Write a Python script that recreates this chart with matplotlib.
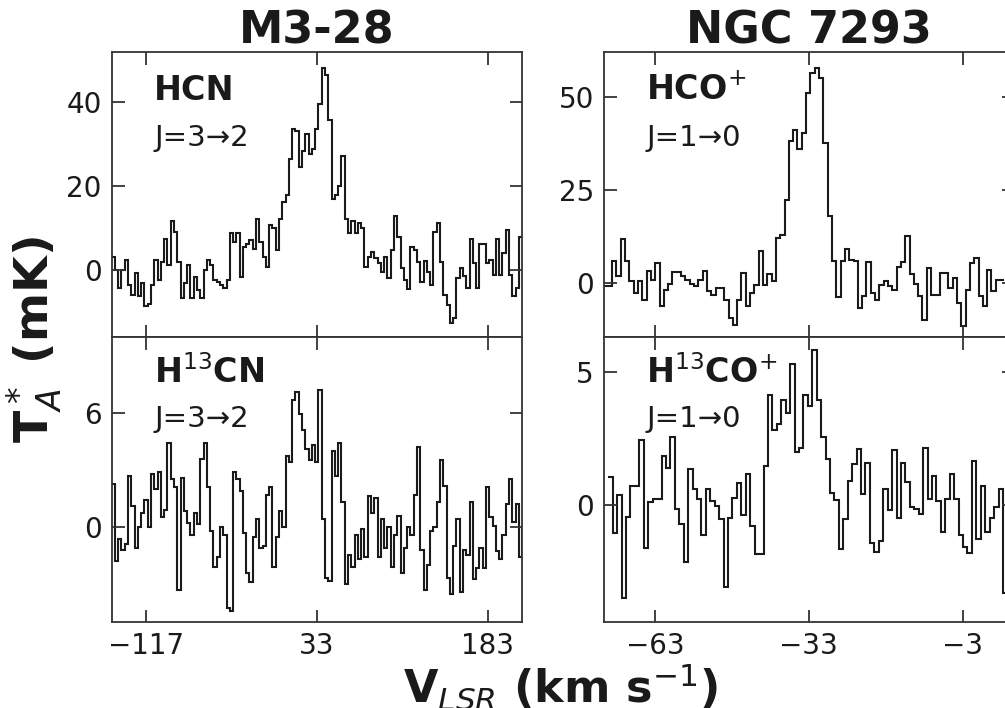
import numpy as np
import matplotlib.pyplot as plt

# M3-28, HCN J=3-2 (mK), channels from V0 in steps of DV (km/s)
hcn_v0, hcn_dv = -147.0, 2.88
hcn = [3.2, 0.0, -4.3, 0.0, 2.4, -3.6, -5.9, -0.8, -6.3, -3.2, -8.5, -8.1, -3.6, 2.4, -2.4, 2.0,
       7.5, 1.2, 11.8, 9.1, 2.0, -6.7, -3.2, 1.2, -6.7, -1.6, -4.7, -6.7, 0.0, 2.4, 1.2, -2.4,
       -2.8, -3.6, -4.3, -2.4, 8.7, 6.7, 8.7, -1.6, 5.5, 6.3, 7.1, 5.1, 12.2, 6.7, 3.2, 0.8,
       10.7, 9.9, 4.7, 12.2, 16.2, 17.8, 26.5, 33.6, 33.2, 24.5, 28.4, 32.4, 27.7, 28.8,
       33.6, 39.5, 48.2, 46.6, 35.9, 17.0, 17.8, 20.1, 27.3, 12.2, 8.8, 11.8, 8.8, 11.2, 9.9,
       0.8, 3.2, 4.3, 2.8, 1.6, -0.4, 3.2, -2.0, 4.7, 12.8, 7.9, 0.4, -2.5, -4.6, 5.5, 4.7,
       2.0, -2.8, 2.2, -0.4, -3.6, 9.1, 11.1, 2.0, -5.9, -8.3, -12.6, -11.4, -2.0, 0.4, -1.4,
       -4.3, 7.5, 1.6, -4.3, 6.3, 6.2, 1.6, 2.4, -1.2, 7.3, -1.2, 4.0, 9.5, -1.2, -6.3, -4.3, 7.9]

# M3-28, H13CN J=3-2 (mK)
h13cn_v0, h13cn_dv = -147.0, 2.88
h13cn = [2.25, -1.8, -0.65, -1.2, -0.9, 2.7, 1.1, -1.1, 0.0, 0.75, 1.4, 0.0, 2.8, 2.0, 2.9, 0.5,
         0.9, 4.4, 2.5, 2.1, -3.3, 2.6, 0.85, 0.2, -0.4, 0.75, 0.15, 3.6, 4.4, 2.1, -0.2, -2.1,
         -1.6, 0.0, -0.4, -4.25, -4.4, 2.9, 2.5, 1.9, -0.3, -2.4, -2.9, -0.55, 0.4, -1.1, -1.0,
         1.7, 2.1, -2.1, -0.55, 0.85, 0.0, 3.75, 3.4, 6.7, 7.1, 5.95, 5.1, 4.1, 3.5,
         4.3, 3.4, 7.2, 0.4, -2.7, -2.85, 4.0, 2.7, 4.4, 1.3, -3.0, -1.45, -2.1, -0.4, -1.7, -0.1,
         -1.6, 1.65, 0.75, 1.55, -1.6, 0.4, -1.1, 0.0, -2.1, -0.4, 0.6, -2.4, -1.1, 0.0, -0.4,
         1.7, 4.2, -1.2, -3.3, -2.0, -0.2, 0.0, 1.3, 3.5, 2.15, -2.7, -3.55, -1.0, 0.4, -3.4,
         -1.2, -1.45, 1.3, -2.75, -2.15, -1.1, -2.15, 2.1, 0.5, 0.05, -1.25, -1.7, -0.4, 1.2,
         2.5, 0.25, 1.2, -1.6, 0.05]

# NGC 7293, HCO+ J=1-0 (mK)
hco_v0, hco_dv = -73.0, 0.84
hco = [-0.9, -0.9, 5.8, 1.8, 11.7, 5.8, 0.45, -2.7, 0.45, -4.5, 3.1, 0.9, 5.4, -6.3, -1.8, -0.4,
       3.0, 3.0, 1.8, 0.9, -0.4, -0.9, 0.9, 3.3, -2.2, -3.1, -1.3, -1.3, -4.5, -9.4, -11.2, -4.5,
       2.7, -6.3, -2.7, -0.6, 8.7, -0.6, 2.4, 0.45, 12.1, 12.8, 22.4, 38.1, 41.2, 35.9, 40.3, 51.1,
       56.5, 57.8, 55.1, 37.6, 17.9, 5.8, -3.8, 5.8, 9.0, 6.3, 5.8, -6.7, -3.6, 5.6, -2.7, -4.5,
       -0.6, 0.45, -0.9, -1.8, 4.2, 5.6, 12.6, 2.3, -0.4, -3.6, -9.8, 4.0, -3.1, -3.1, 2.7, 2.7,
       -1.3, 1.3, -5.4, -11.6, -1.8, 5.4, 6.6, -3.6, -6.3, 3.6, -2.2, 0.9, 0.9]

# NGC 7293, H13CO+ J=1-0 (mK)
h13co_v0, h13co_dv = -72.06, 0.864
h13co = [1.05, -1.05, 0.38, -3.5, -0.47, 0.7, 0.7, 2.44, -1.64, 0.1, 0.2, 0.2, 1.84, 1.39, 2.56,
         -0.15, -0.72, -2.15, 1.36, 0.58, 0.2, -1.14, 0.6, 0.16, -0.03, -0.53, -3.08, -0.5, 0.25,
         0.8, -0.4, 1.17, -0.78, -1.86, -1.86, 1.46, 4.14, 2.81, 3.03, 3.95, 3.45, 5.3, 2.0, 2.14,
         4.14, 3.7, 5.8, 3.95, 2.56, 1.72, 0.45, 0.19, -1.67, -0.53, 0.9, 1.55, 2.1, 0.39, 1.58,
         -1.42, -1.77, -1.35, 0.58, -0.2, 2.06, -0.5, 1.58, 0.86, -0.09, -0.15, -0.36, 2.15, 0.23,
         1.08, 0.15, -1.01, 0.23, 1.15, 0.23, -1.12, -1.6, -1.82, 1.64, -1.29, 0.7, -1.04, -0.5,
         -0.09, 0.6, -3.3, 0.04]

panels = [
    # values, v0, dv, xlim, ylim, yticks, xticks, name, transition
    (hcn, hcn_v0, hcn_dv, (-147, 213), (-16, 52), [0, 20, 40], [-117, 33, 183],
     'HCN', 'J=3→2'),
    (h13cn, h13cn_v0, h13cn_dv, (-147, 213), (-5, 10), [0, 6], [-117, 33, 183],
     r'H$^{13}$CN', 'J=3→2'),
    (hco, hco_v0, hco_dv, (-73, 7), (-14.5, 62), [0, 25, 50], [-63, -33, -3],
     r'HCO$^{+}$', 'J=1→0'),
    (h13co, h13co_v0, h13co_dv, (-73, 7), (-4.4, 6.3), [0, 5], [-63, -33, -3],
     r'H$^{13}$CO$^{+}$', 'J=1→0'),
]

fig = plt.figure(figsize=(10.05, 7.08), dpi=100)
w, h = 0.4085, 0.4025
positions = [(0.111, 0.524), (0.111, 0.1215), (0.6005, 0.524), (0.6005, 0.1215)]
txt = '#1a1a1a'

for i, (vals, v0, dv, xl, yl, yt, xt, name, trans) in enumerate(panels):
    ax = fig.add_axes([positions[i][0], positions[i][1], w, h])
    edges = v0 + dv * np.arange(len(vals) + 1)
    ax.stairs(vals, edges, baseline=None, color='#1a1a1a', lw=1.5)
    ax.set_xlim(*xl)
    ax.set_ylim(*yl)
    ax.set_xticks(xt)
    ax.set_yticks(yt)
    ax.tick_params(direction='in', top=True, right=True, length=9, width=1.3,
                   labelsize=20, pad=7, colors='#333333', labelcolor=txt)
    for s in ax.spines.values():
        s.set_linewidth(1.3)
        s.set_color('#333333')
    if i in (0, 2):
        ax.tick_params(labelbottom=False)
        ax.set_title(['M3-28', '', 'NGC 7293'][i], fontsize=32, fontweight='bold',
                     color=txt, pad=6)
        ax.text(0.104, 0.832, name, transform=ax.transAxes, fontsize=24,
                fontweight='bold', color=txt)
        ax.text(0.104, 0.67, trans, transform=ax.transAxes, fontsize=21, color=txt)
    else:
        ax.text(0.104, 0.839, name, transform=ax.transAxes, fontsize=24,
                fontweight='bold', color=txt)
        ax.text(0.104, 0.684, trans, transform=ax.transAxes, fontsize=21, color=txt)

fig.text(0.035, 0.52, r'T$_A^*$ (mK)', rotation=90, ha='center', va='center',
         fontsize=34, fontweight='bold', color=txt)
fig.text(0.558, 0.007, r'V$_{LSR}$ (km s$^{-1}$)', ha='center', va='baseline',
         fontsize=32, fontweight='bold', color=txt)

fig.savefig('out.png', dpi=100)
